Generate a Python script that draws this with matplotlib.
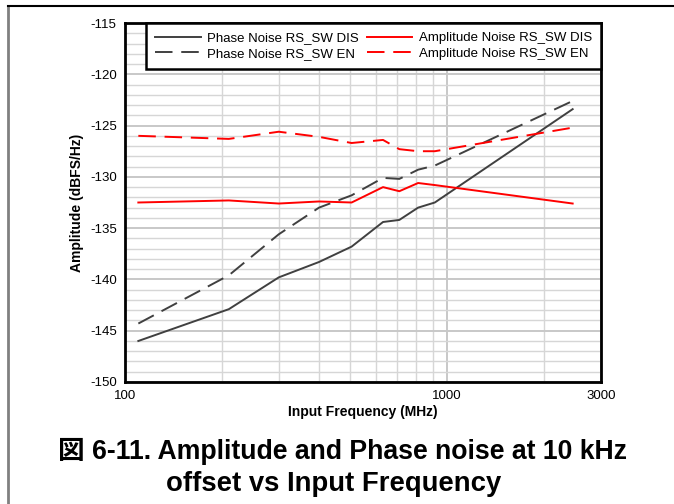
import matplotlib.pyplot as plt
from matplotlib.ticker import FixedLocator, MultipleLocator, NullFormatter
from matplotlib.lines import Line2D

plt.rcParams['font.family'] = ['Liberation Sans', 'Noto Sans CJK JP']
plt.rcParams['axes.unicode_minus'] = False

freq = [110, 210, 300, 400, 505, 632, 710, 812, 915, 2450]
phase_dis = [-146.0, -142.9, -139.8, -138.3, -136.8, -134.4, -134.2, -133.0, -132.5, -123.4]
phase_en = [-144.3, -139.6, -135.6, -133.0, -131.8, -130.1, -130.2, -129.3, -128.9, -122.6]
amp_dis = [-132.5, -132.3, -132.6, -132.4, -132.5, -131.0, -131.4, -130.6, -130.8, -132.6]
amp_en = [-126.0, -126.3, -125.6, -126.1, -126.7, -126.4, -127.3, -127.5, -127.5, -125.2]

gray = "#404040"
red = "#ff0000"
dash = (0, (9, 4.5))

fig = plt.figure(figsize=(6.74, 5.04), dpi=100)
ax = fig.add_axes([125 / 674, 1 - 382 / 504, 476 / 674, 359 / 504])

ax.plot(freq, phase_dis, color=gray, lw=1.4, label="Phase Noise RS_SW DIS")
ax.plot(freq, phase_en, color=gray, lw=1.4, ls=dash, label="Phase Noise RS_SW EN")
ax.plot(freq, amp_dis, color=red, lw=1.4, label="Amplitude Noise RS_SW DIS")
ax.plot(freq, amp_en, color=red, lw=1.4, ls=dash, label="Amplitude Noise RS_SW EN")

ax.set_xscale("log")
ax.set_xlim(100, 3000)
ax.set_ylim(-150, -115)
ax.xaxis.set_major_locator(FixedLocator([100, 1000, 3000]))
ax.set_xticklabels(["100", "1000", "3000"])
ax.xaxis.set_minor_locator(FixedLocator([200, 300, 400, 500, 600, 700, 800, 900, 2000]))
ax.xaxis.set_minor_formatter(NullFormatter())
ax.yaxis.set_major_locator(MultipleLocator(5))
ax.yaxis.set_minor_locator(MultipleLocator(1))
ax.tick_params(which="both", length=0, labelsize=9.5, pad=6)
ax.grid(True, which="major", color="#c8c8c8", lw=1.4)
ax.grid(True, which="minor", color="#d6d6d6", lw=1.0)
ax.set_axisbelow(True)
for s in ax.spines.values():
    s.set_linewidth(2)

ax.set_xlabel("Input Frequency (MHz)", fontsize=10, fontweight="bold", labelpad=2)
ax.set_ylabel("Amplitude (dBFS/Hz)", fontsize=10, fontweight="bold", labelpad=4)

handles = [Line2D([], [], color=gray, lw=1.4), Line2D([], [], color=gray, lw=1.4, ls=dash),
           Line2D([], [], color=red, lw=1.4), Line2D([], [], color=red, lw=1.4, ls=dash)]
labels = ["Phase Noise RS_SW DIS", "Phase Noise RS_SW EN",
          "Amplitude Noise RS_SW DIS", "Amplitude Noise RS_SW EN"]
leg = ax.legend(handles, labels, ncol=2, loc="upper right", fontsize=9.5,
                frameon=True, fancybox=False, edgecolor="black", framealpha=1,
                borderaxespad=0, handlelength=3.45, columnspacing=0.58,
                labelspacing=0.22, borderpad=0.7, handletextpad=0.48)
leg.get_frame().set_linewidth(1.8)

fig.text(342.5 / 674, 1 - 451 / 504, "図 6-11. Amplitude and Phase noise at 10 kHz",
         ha="center", va="center", fontsize=19.2, fontweight="bold")
fig.text(334 / 674, 1 - 484 / 504, "offset vs Input Frequency",
         ha="center", va="center", fontsize=19.8, fontweight="bold")

fig.add_artist(Line2D([8 / 674, 8 / 674], [0, 1 - 6 / 504], color="#808080", lw=2))
fig.add_artist(Line2D([8 / 674, 1], [1 - 6 / 504, 1 - 6 / 504], color="black", lw=1.5))

fig.savefig("out.png", dpi=100)
